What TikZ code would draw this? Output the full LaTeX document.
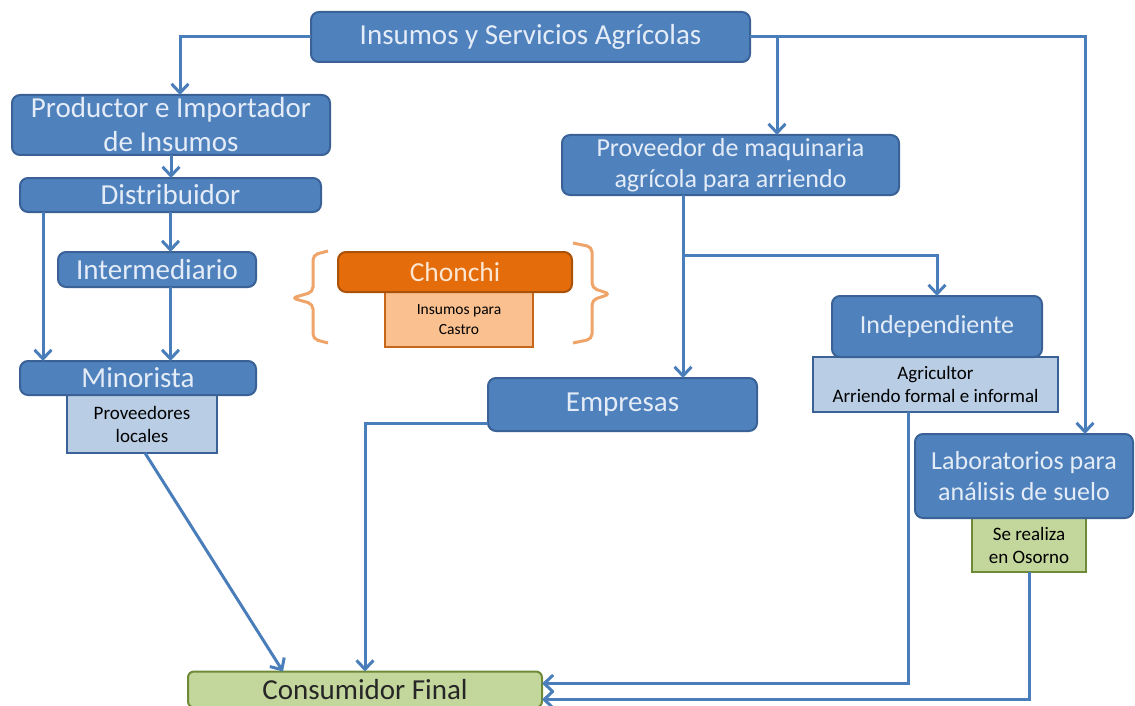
\documentclass[tikz,border=0pt]{standalone}
\usepackage{fontspec}
\setmainfont{Carlito}
\usetikzlibrary{arrows.meta}
\definecolor{bfill}{HTML}{4F81BD}
\definecolor{bborder}{HTML}{3A6296}
\definecolor{btext}{HTML}{E4ECF7}
\definecolor{sfill}{HTML}{B9CDE5}
\definecolor{ofill}{HTML}{E46C0A}
\definecolor{oborder}{HTML}{A9520A}
\definecolor{otext}{HTML}{FCE6D2}
\definecolor{osfill}{HTML}{FAC090}
\definecolor{osborder}{HTML}{C8661A}
\definecolor{gfill}{HTML}{C3D69B}
\definecolor{gborder}{HTML}{6F8A36}
\definecolor{lcol}{HTML}{4A7EBB}
\definecolor{brk}{HTML}{EFA56A}
\tikzset{
  mainbox/.style={draw=bborder, fill=bfill, rounded corners=8pt, line width=2pt,
    text=btext, inner sep=0pt, outer sep=0pt, align=center,
    font=\fontsize{29}{34}\selectfont},
  smallmain/.style={mainbox, font=\fontsize{26}{31}\selectfont},
  subbox/.style={draw=bborder, fill=sfill, line width=1.6pt, text=black,
    inner sep=0pt, outer sep=0pt, align=center,
    font=\fontsize{19}{23}\selectfont},
  orangebox/.style={mainbox, draw=oborder, fill=ofill, text=otext,
    font=\fontsize{27.5}{32}\selectfont},
  orangesub/.style={subbox, draw=osborder, fill=osfill,
    font=\fontsize{15.5}{20}\selectfont},
  greensub/.style={subbox, draw=gborder, fill=gfill},
  greenbox/.style={mainbox, draw=gborder, fill=gfill, text=black!85,
    rounded corners=6pt},
  conn/.style={draw=lcol, line width=3pt,
    -{Straight Barb[length=9pt,width=17pt,line width=3pt]}},
  bracket/.style={draw=brk, line width=3pt, rounded corners=5pt}
}
\begin{document}
\begin{tikzpicture}[x=1pt,y=-1pt]
\useasboundingbox (0,0) rectangle (1135,706);
\clip (0,0) rectangle (1135,706);

% sub boxes first (main boxes overlap them)
\node[subbox, minimum width=150pt, minimum height=58pt] (minosub) at (142,424) {Proveedores\\locales};
\node[orangesub, minimum width=148pt, minimum height=55pt] (chonsub) at (459,319.5) {Insumos para\\Castro};
\node[subbox, minimum width=245pt, minimum height=55pt] (indsub) at (935.5,384.5) {Agricultor\\Arriendo formal e informal};
\node[greensub, minimum width=114pt, minimum height=54pt] (labsub) at (1029,545) {Se realiza\\en Osorno};

% main boxes
\node[mainbox, minimum width=439pt, minimum height=50pt] (top) at (530.5,37) {Insumos y Servicios Agrícolas};
\node[mainbox, minimum width=318pt, minimum height=60pt] (prod) at (171,125) {Productor e Importador\\de Insumos};
\node[mainbox, minimum width=301pt, minimum height=34pt] (dist) at (170.5,195) {Distribuidor};
\node[mainbox, minimum width=198pt, minimum height=35pt] (inter) at (157,269.5) {Intermediario};
\node[mainbox, minimum width=236pt, minimum height=34pt] (mino) at (138,378) {Minorista};
\node[orangebox, minimum width=234pt, minimum height=40pt] (chon) at (455,272) {Chonchi};
\node[smallmain, minimum width=337pt, minimum height=60pt] (prov) at (730.5,165) {Proveedor de maquinaria\\agrícola para arriendo};
\node[mainbox, minimum width=269pt, minimum height=53pt] (emp) at (622.5,404.5) {Empresas};
\node[smallmain, minimum width=210pt, minimum height=61pt] (ind) at (937,326.5) {Independiente};
\node[smallmain, minimum width=218pt, minimum height=84pt] (lab) at (1024,476) {Laboratorios para\\análisis de suelo};
\node[greenbox, minimum width=354pt, minimum height=36pt] (cons) at (365,689.5) {Consumidor Final};

% brackets around Chonchi
\draw[bracket] (328,251) -- (313,255) -- (313,292) -- (292,298) -- (313,304) -- (313,339) -- (328,343);
\draw[bracket] (573,243) -- (592,247) -- (592,288) -- (610,294) -- (592,300) -- (592,339) -- (573,343);

% connectors
\coordinate (y255) at (0,255);
\draw[conn] (top.west) -| ([xshift=9pt]prod.north);
\draw[conn] (top.east) -| ([xshift=61pt]lab.north);
\draw[conn] ([xshift=27pt]top.east) -- ([xshift=27pt]top.east |- prov.north);
\draw[conn] (prod.south) -- (prod.south |- dist.north);
\draw[conn] ([xshift=-127.5pt]dist.south) -- ([xshift=-127.5pt]dist.south |- mino.north);
\draw[conn] (dist.south) -- (dist.south |- inter.north);
\draw[conn] (dist.south |- inter.south) -- (dist.south |- mino.north);
\draw[conn] ([xshift=3pt]minosub.south) -- ([xshift=-82pt]cons.north);
\draw[conn] ([yshift=-18.5pt]emp.west) -| (cons.north);
\coordinate (pb) at ([xshift=-47.5pt]prov.south);
\draw[conn] (pb) -- (pb |- emp.north);
\draw[conn] (pb |- y255) -| (ind.north);
\draw[conn] ([xshift=-27.5pt]indsub.south) |- ([yshift=6pt]cons.east);
\draw[conn] (labsub.south) |- ([yshift=-10pt]cons.east);
\end{tikzpicture}
\end{document}
